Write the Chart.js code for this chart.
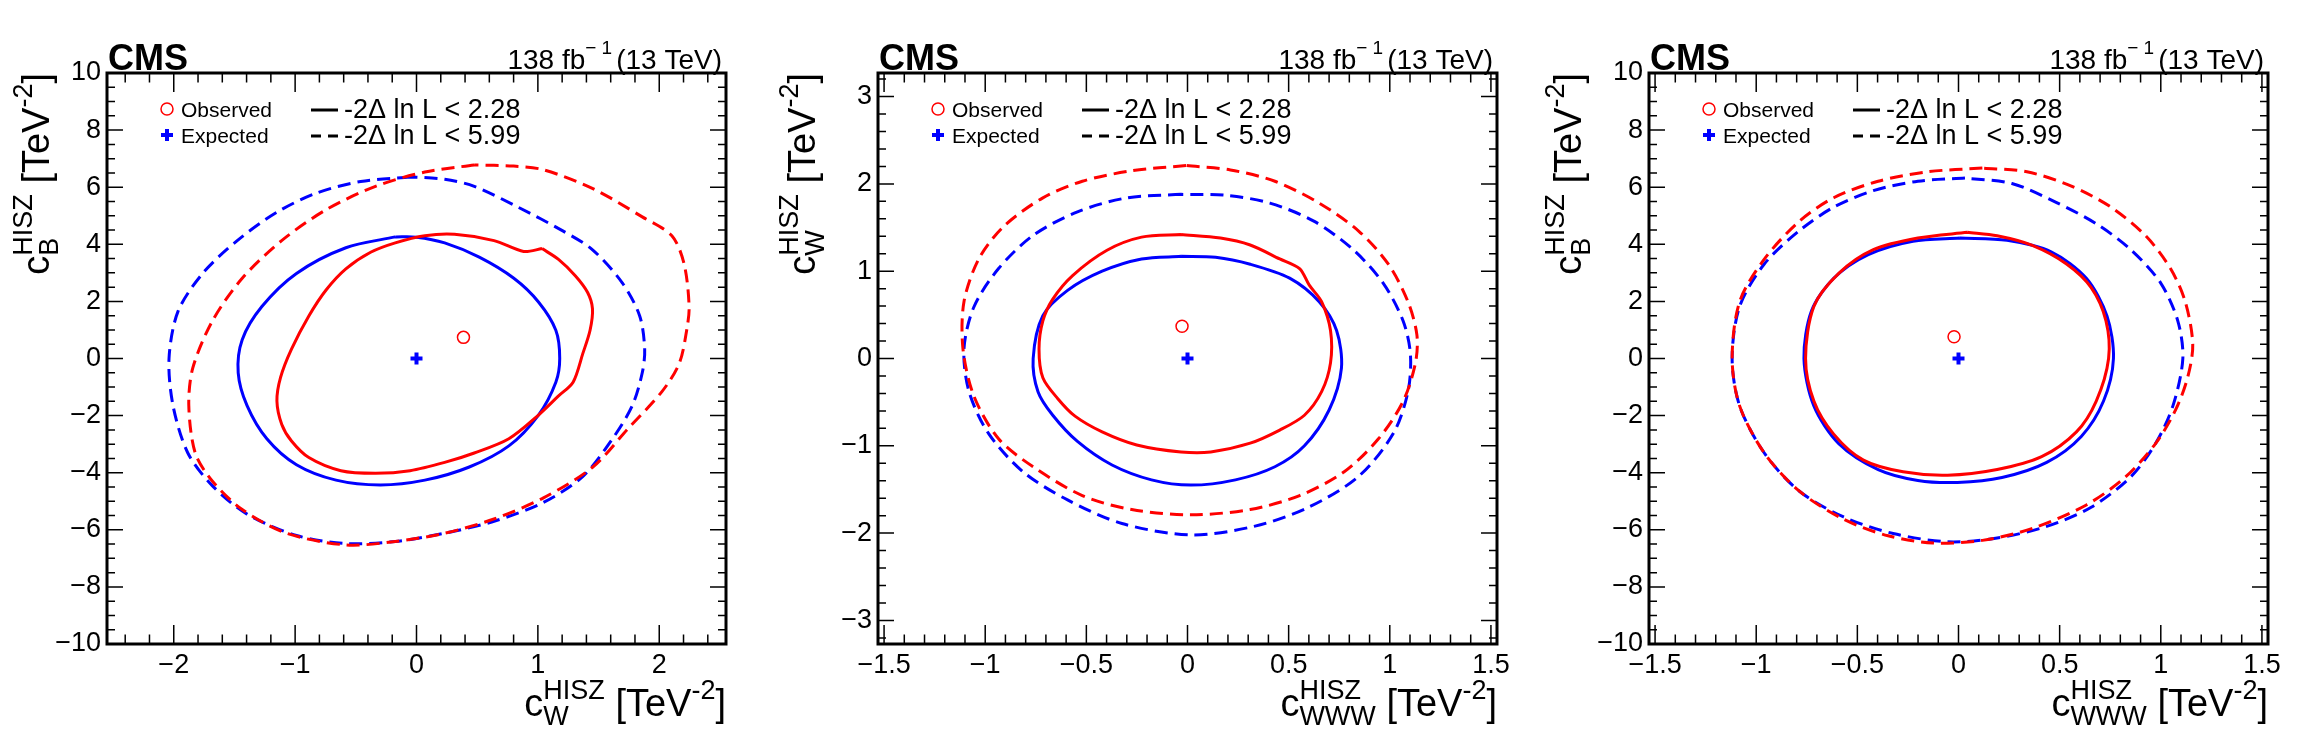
<!DOCTYPE html>
<html>
<head>
<meta charset="utf-8">
<script src="https://cdn.jsdelivr.net/npm/chart.js@4.4.1/dist/chart.umd.min.js"></script>
<style>
  body { margin: 0; background: #fff; }
  #wrap { display: flex; width: 2299px; height: 737px; }
  canvas { display: block; }
</style>
</head>
<body>
<div id="wrap">
  <canvas id="p1" width="766" height="737"></canvas>
  <canvas id="p2" width="766" height="737"></canvas>
  <canvas id="p3" width="767" height="737"></canvas>
</div>
<script>
// ---- panel 1: c_W vs c_B ----
const p1ObsSolid = [[1.034,3.85],[0.883,3.75],[0.639,4.13],[0.313,4.35],[0.069,4.30],[-0.175,4.05],[-0.378,3.72],[-0.582,3.14],[-0.745,2.40],[-0.887,1.49],[-1.03,0.33],[-1.12,-0.66],[-1.15,-1.49],[-1.11,-2.31],[-1.03,-2.89],[-0.887,-3.47],[-0.623,-3.93],[-0.338,-4.02],[-0.053,-3.93],[0.232,-3.64],[0.476,-3.31],[0.761,-2.81],[1.005,-1.98],[1.168,-1.32],[1.29,-0.83],[1.37,0.17],[1.43,0.99],[1.45,1.74],[1.41,2.31],[1.31,2.89],[1.17,3.47],[1.034,3.85]];
const p1ExpSolid = [[-0.175,4.26],[-0.582,3.88],[-0.989,2.98],[-1.274,1.82],[-1.436,0.66],[-1.469,-0.50],[-1.396,-1.65],[-1.233,-2.81],[-0.989,-3.72],[-0.663,-4.26],[-0.297,-4.43],[0.069,-4.26],[0.435,-3.80],[0.761,-3.06],[1.005,-1.98],[1.148,-0.83],[1.18,0],[1.148,0.99],[1.005,1.98],[0.802,2.81],[0.517,3.55],[0.232,4.05],[0,4.25],[-0.175,4.26]];
const p1ObsDash = [[0.476,6.78],[0.069,6.53],[-0.338,6.03],[-0.745,5.21],[-1.111,4.13],[-1.436,2.81],[-1.681,1.32],[-1.843,-0.33],[-1.876,-1.65],[-1.823,-3.31],[-1.681,-4.30],[-1.436,-5.29],[-1.070,-6.12],[-0.582,-6.53],[-0.175,-6.41],[0.232,-6.12],[0.639,-5.62],[1.046,-4.88],[1.453,-3.80],[1.738,-2.48],[2.022,-1.16],[2.165,-0.17],[2.226,0.99],[2.246,1.82],[2.205,3.31],[2.104,4.30],[1.86,4.96],[1.453,5.95],[1.046,6.61],[0.80,6.74],[0.476,6.78]];
const p1ExpDash = [[-0.053,6.36],[-0.460,6.20],[-0.826,5.79],[-1.152,5.12],[-1.477,4.13],[-1.762,2.98],[-1.965,1.65],[-2.039,0],[-2.006,-1.65],[-1.884,-3.31],[-1.681,-4.46],[-1.396,-5.45],[-0.989,-6.20],[-0.582,-6.48],[-0.175,-6.41],[0.232,-6.12],[0.639,-5.70],[1.046,-5.04],[1.371,-4.13],[1.615,-2.81],[1.778,-1.65],[1.86,-0.50],[1.88,0.33],[1.839,1.49],[1.697,2.64],[1.453,3.80],[1.209,4.46],[0.842,5.29],[0.476,6.03],[0.232,6.28],[-0.053,6.36]];
const p1ObsPoint = [0.387, 0.74];
const p1ExpPoint = [0, 0];

// ---- panel 2: c_WWW vs c_W ----
const p2ObsSolid = [[-0.032,1.42],[-0.227,1.39],[-0.398,1.24],[-0.568,0.95],[-0.666,0.68],[-0.715,0.43],[-0.734,0.11],[-0.715,-0.22],[-0.641,-0.46],[-0.556,-0.66],[-0.422,-0.84],[-0.251,-0.99],[-0.032,-1.07],[0.115,-1.07],[0.310,-0.97],[0.456,-0.82],[0.578,-0.65],[0.663,-0.38],[0.707,-0.05],[0.707,0.32],[0.663,0.65],[0.602,0.84],[0.554,1.03],[0.456,1.14],[0.310,1.30],[0.163,1.38],[-0.032,1.42]];
const p2ExpSolid = [[-0.032,1.17],[-0.227,1.14],[-0.422,1.00],[-0.593,0.78],[-0.715,0.49],[-0.763,0],[-0.739,-0.38],[-0.666,-0.65],[-0.544,-0.95],[-0.373,-1.22],[-0.178,-1.39],[0.017,-1.45],[0.237,-1.39],[0.432,-1.24],[0.578,-1.00],[0.70,-0.59],[0.761,-0.11],[0.737,0.32],[0.651,0.65],[0.505,0.92],[0.310,1.08],[0.139,1.16],[-0.032,1.17]];
const p2ObsDash = [[-0.007,2.21],[-0.276,2.15],[-0.520,2.03],[-0.715,1.84],[-0.910,1.51],[-1.032,1.14],[-1.105,0.65],[-1.110,0.11],[-1.056,-0.43],[-0.934,-0.92],[-0.763,-1.24],[-0.520,-1.57],[-0.276,-1.73],[0.017,-1.79],[0.310,-1.73],[0.554,-1.57],[0.773,-1.30],[0.944,-0.92],[1.066,-0.49],[1.127,-0.05],[1.134,0.27],[1.090,0.65],[0.993,1.08],[0.846,1.46],[0.651,1.78],[0.432,2.03],[0.212,2.16],[-0.007,2.21]];
const p2ExpDash = [[-0.032,1.88],[-0.300,1.84],[-0.544,1.68],[-0.763,1.41],[-0.934,1.03],[-1.056,0.59],[-1.105,0.11],[-1.080,-0.38],[-0.983,-0.86],[-0.812,-1.30],[-0.593,-1.62],[-0.324,-1.89],[0.017,-2.02],[0.334,-1.92],[0.602,-1.70],[0.846,-1.35],[1.017,-0.86],[1.090,-0.38],[1.102,0.05],[1.066,0.43],[0.968,0.86],[0.822,1.24],[0.627,1.57],[0.407,1.78],[0.188,1.87],[-0.032,1.88]];
const p2ObsPoint = [-0.027, 0.37];
const p2ExpPoint = [0, 0];

// ---- panel 3: c_WWW vs c_B ----
const p3ObsSolid = [[0.044,4.42],[-0.201,4.22],[-0.421,3.81],[-0.592,2.98],[-0.715,1.82],[-0.756,0],[-0.715,-1.49],[-0.617,-2.65],[-0.470,-3.56],[-0.274,-3.97],[-0.054,-4.09],[0.191,-3.89],[0.411,-3.44],[0.583,-2.57],[0.681,-1.49],[0.742,0],[0.729,1.32],[0.656,2.48],[0.534,3.31],[0.362,3.97],[0.191,4.30],[0.044,4.42]];
const p3ExpSolid = [[0.007,4.22],[-0.225,4.11],[-0.446,3.64],[-0.617,2.81],[-0.727,1.66],[-0.764,0],[-0.715,-1.66],[-0.592,-2.98],[-0.397,-3.89],[-0.201,-4.27],[-0.005,-4.34],[0.215,-4.17],[0.436,-3.64],[0.607,-2.73],[0.717,-1.49],[0.766,0],[0.734,1.49],[0.632,2.81],[0.460,3.73],[0.240,4.14],[0.007,4.22]];
const p3ObsDash = [[0.118,6.67],[-0.152,6.54],[-0.397,6.21],[-0.617,5.63],[-0.788,4.80],[-0.960,3.48],[-1.082,1.99],[-1.119,0],[-1.082,-1.66],[-0.960,-3.31],[-0.788,-4.64],[-0.568,-5.63],[-0.348,-6.21],[-0.127,-6.46],[0.118,-6.37],[0.362,-5.96],[0.632,-5.13],[0.827,-4.14],[0.974,-2.98],[1.072,-1.82],[1.133,-0.66],[1.158,0.50],[1.121,1.99],[1.048,3.15],[0.925,4.30],[0.754,5.30],[0.558,6.04],[0.338,6.54],[0.118,6.67]];
const p3ExpDash = [[0.032,6.32],[-0.201,6.21],[-0.421,5.88],[-0.617,5.30],[-0.788,4.47],[-0.960,3.31],[-1.082,1.82],[-1.119,0],[-1.082,-1.66],[-0.960,-3.31],[-0.788,-4.64],[-0.568,-5.55],[-0.323,-6.13],[-0.054,-6.42],[0.191,-6.29],[0.436,-5.88],[0.656,-5.21],[0.852,-4.14],[0.974,-2.98],[1.060,-1.66],[1.109,0],[1.084,1.32],[0.999,2.65],[0.852,3.81],[0.681,4.72],[0.485,5.46],[0.264,6.13],[0.032,6.32]];
const p3ObsPoint = [-0.022, 0.76];
const p3ExpPoint = [0, 0];

// tick labels (major) and minor steps
const xTicksWide = [-2, -1, 0, 1, 2];
const xTicksNarrow = [-1.5, -1, -0.5, 0, 0.5, 1, 1.5];
const yTicksB = [-10, -8, -6, -4, -2, 0, 2, 4, 6, 8, 10];
const yTicksW = [-3, -2, -1, 0, 1, 2, 3];

const legendLabels = ['Observed', 'Expected', '-2\u0394 ln L < 2.28', '-2\u0394 ln L < 5.99'];

const RED = '#ff0000', BLUE = '#0000ff';
const FONT = '"Liberation Sans", Arial, sans-serif';

function pts(a) { return a.map(p => ({x: p[0], y: p[1]})); }
function fmt(v) { return (v < 0 ? '\u2212' : '') + Math.abs(v); }

function drawRich(ctx, parts, x, y, alignRight) {
  const big = 'px ' + FONT;
  const main = 38, small = 27;
  let total = 0;
  const widths = parts.map(p => {
    if (p[0] === 'n') { ctx.font = main + big; return ctx.measureText(p[1]).width; }
    ctx.font = small + big;
    return Math.max(ctx.measureText(p[1] || '').width, ctx.measureText(p[2] || '').width);
  });
  widths.forEach(w => total += w);
  let cx = alignRight ? x - total : x;
  ctx.textAlign = 'left';
  parts.forEach((p, i) => {
    if (p[0] === 'n') {
      ctx.font = main + big; ctx.fillText(p[1], cx, y);
    } else {
      ctx.font = small + big;
      if (p[1]) ctx.fillText(p[1], cx, y + 9);   // subscript
      if (p[2]) ctx.fillText(p[2], cx, y - 17);  // superscript
    }
    cx += widths[i];
  });
}

function makePanel(id, d, cfg) {
  const framePlugin = {
    id: 'frame',
    afterDraw(chart) {
      const ctx = chart.ctx, a = chart.chartArea;
      const xs = chart.scales.x, ys = chart.scales.y;
      ctx.save();
      ctx.strokeStyle = '#000';
      ctx.lineWidth = 1.5;
      for (let v = Math.ceil(xs.min / cfg.xMinor - 1e-6) * cfg.xMinor; v <= xs.max + 1e-9; v += cfg.xMinor) {
        const isMaj = Math.abs(v / cfg.xMajor - Math.round(v / cfg.xMajor)) < 1e-6;
        const L = isMaj ? 19 : 9.5;
        const px = xs.getPixelForValue(v);
        ctx.beginPath();
        ctx.moveTo(px, a.bottom); ctx.lineTo(px, a.bottom - L);
        ctx.moveTo(px, a.top); ctx.lineTo(px, a.top + L);
        ctx.stroke();
      }
      for (let v = Math.ceil(ys.min / cfg.yMinor - 1e-6) * cfg.yMinor; v <= ys.max + 1e-9; v += cfg.yMinor) {
        const isMaj = Math.abs(v / cfg.yMajor - Math.round(v / cfg.yMajor)) < 1e-6;
        const L = isMaj ? 16 : 8;
        const py = ys.getPixelForValue(v);
        ctx.beginPath();
        ctx.moveTo(a.left, py); ctx.lineTo(a.left + L, py);
        ctx.moveTo(a.right, py); ctx.lineTo(a.right - L, py);
        ctx.stroke();
      }
      ctx.lineWidth = 3;
      ctx.strokeRect(a.left, a.top, a.right - a.left, a.bottom - a.top);

      // tick labels from the scales
      ctx.fillStyle = '#000';
      ctx.font = '27px ' + FONT;
      ctx.textBaseline = 'top';
      ctx.textAlign = 'center';
      cfg.xTicks.forEach(v => ctx.fillText(fmt(v), xs.getPixelForValue(v), a.bottom + 8));
      ctx.textBaseline = 'middle';
      ctx.textAlign = 'right';
      cfg.yTicks.forEach(v => ctx.fillText(fmt(v), a.left - 6, ys.getPixelForValue(v)));

      ctx.textBaseline = 'alphabetic';
      // header
      ctx.font = 'bold 36px ' + FONT;
      ctx.textAlign = 'left';
      ctx.fillText('CMS', a.left + 1, a.top - 3);
      ctx.textAlign = 'right';
      ctx.font = '28px ' + FONT;
      ctx.fillText('(13 TeV)', a.right - 4, a.top - 4);
      const w1 = ctx.measureText('(13 TeV)').width;
      ctx.font = '19px ' + FONT;
      ctx.fillText('\u2212 1', a.right - 8 - w1, a.top - 19);
      const w2 = ctx.measureText('\u2212 1').width;
      ctx.font = '28px ' + FONT;
      ctx.fillText('138 fb', a.right - 8 - w1 - w2, a.top - 4);

      // legend
      const lx = a.left + 60, r1 = 109, r2 = 135;
      ctx.textAlign = 'left';
      ctx.strokeStyle = RED; ctx.lineWidth = 1.5;
      ctx.beginPath(); ctx.arc(lx, r1, 6, 0, 2 * Math.PI); ctx.stroke();
      ctx.strokeStyle = BLUE; ctx.lineWidth = 4;
      ctx.beginPath(); ctx.moveTo(lx - 6, r2); ctx.lineTo(lx + 6, r2);
      ctx.moveTo(lx, r2 - 6); ctx.lineTo(lx, r2 + 6); ctx.stroke();
      ctx.fillStyle = '#000';
      ctx.font = '21px ' + FONT;
      ctx.fillText(legendLabels[0], lx + 14, r1 + 8);
      ctx.fillText(legendLabels[1], lx + 14, r2 + 8);
      ctx.strokeStyle = '#000'; ctx.lineWidth = 3;
      ctx.beginPath(); ctx.moveTo(lx + 144, r1 + 1); ctx.lineTo(lx + 171, r1 + 1); ctx.stroke();
      ctx.setLineDash([10, 7]);
      ctx.beginPath(); ctx.moveTo(lx + 144, r2 + 1); ctx.lineTo(lx + 171, r2 + 1); ctx.stroke();
      ctx.setLineDash([]);
      ctx.font = '27px ' + FONT;
      ctx.fillText(legendLabels[2], lx + 177, r1 + 9);
      ctx.fillText(legendLabels[3], lx + 177, r2 + 9);

      // axis titles
      drawRich(ctx, [['n', 'c'], ['s', cfg.xSub, 'HISZ'], ['n', ' [TeV'], ['s', '', '-2'], ['n', ']']], a.right, 716, true);
      ctx.save();
      ctx.translate(49, a.top);
      ctx.rotate(-Math.PI / 2);
      drawRich(ctx, [['n', 'c'], ['s', cfg.ySub, 'HISZ'], ['n', ' [TeV'], ['s', '', '-2'], ['n', ']']], 0, 0, true);
      ctx.restore();
      ctx.restore();
    }
  };

  const line = (data, color, dashed) => ({
    data: pts(data), showLine: true, borderColor: color, borderWidth: 3,
    borderDash: dashed ? [13, 7] : [], pointRadius: 0, tension: 0.3, fill: false
  });

  return new Chart(document.getElementById(id), {
    type: 'scatter',
    data: {
      datasets: [
        line(d.obsDash, RED, true),
        line(d.expDash, BLUE, true),
        line(d.obsSolid, RED, false),
        line(d.expSolid, BLUE, false),
        { data: [{x: d.obsPoint[0], y: d.obsPoint[1]}], pointStyle: 'circle', pointRadius: 6,
          borderColor: RED, backgroundColor: 'rgba(0,0,0,0)', borderWidth: 1.5 },
        { data: [{x: d.expPoint[0], y: d.expPoint[1]}], pointStyle: 'cross', pointRadius: 6,
          borderColor: BLUE, borderWidth: 4 }
      ]
    },
    options: {
      responsive: false, animation: false, devicePixelRatio: 1,
      layout: { padding: cfg.pad },
      plugins: { legend: { display: false }, tooltip: { enabled: false } },
      scales: {
        x: {
          type: 'linear', min: cfg.xRange[0], max: cfg.xRange[1],
          grid: { display: false, drawTicks: false }, border: { display: false },
          afterFit: s => { s.height = 0; },
          afterBuildTicks: s => { s.ticks = cfg.xTicks.map(v => ({value: v})); },
          ticks: { display: false }
        },
        y: {
          type: 'linear', min: cfg.yRange[0], max: cfg.yRange[1],
          grid: { display: false, drawTicks: false }, border: { display: false },
          afterFit: s => { s.width = 0; },
          afterBuildTicks: s => { s.ticks = cfg.yTicks.map(v => ({value: v})); },
          ticks: { display: false }
        }
      }
    },
    plugins: [framePlugin]
  });
}

makePanel('p1',
  { obsSolid: p1ObsSolid, expSolid: p1ExpSolid, obsDash: p1ObsDash, expDash: p1ExpDash, obsPoint: p1ObsPoint, expPoint: p1ExpPoint },
  { pad: {left: 107, right: 40, top: 73, bottom: 93}, xRange: [-2.55, 2.55], yRange: [-10, 10],
    xTicks: xTicksWide, yTicks: yTicksB, xMajor: 1, xMinor: 0.2, yMajor: 2, yMinor: 0.5, xSub: 'W', ySub: 'B' });
makePanel('p2',
  { obsSolid: p2ObsSolid, expSolid: p2ExpSolid, obsDash: p2ObsDash, expDash: p2ExpDash, obsPoint: p2ObsPoint, expPoint: p2ExpPoint },
  { pad: {left: 112, right: 35, top: 73, bottom: 93}, xRange: [-1.53, 1.53], yRange: [-3.27, 3.27],
    xTicks: xTicksNarrow, yTicks: yTicksW, xMajor: 0.5, xMinor: 0.1, yMajor: 1, yMinor: 0.2, xSub: 'WWW', ySub: 'W' });
makePanel('p3',
  { obsSolid: p3ObsSolid, expSolid: p3ExpSolid, obsDash: p3ObsDash, expDash: p3ExpDash, obsPoint: p3ObsPoint, expPoint: p3ExpPoint },
  { pad: {left: 117, right: 31, top: 73, bottom: 93}, xRange: [-1.53, 1.53], yRange: [-10, 10],
    xTicks: xTicksNarrow, yTicks: yTicksB, xMajor: 0.5, xMinor: 0.1, yMajor: 2, yMinor: 0.5, xSub: 'WWW', ySub: 'B' });
</script>
</body>
</html>
